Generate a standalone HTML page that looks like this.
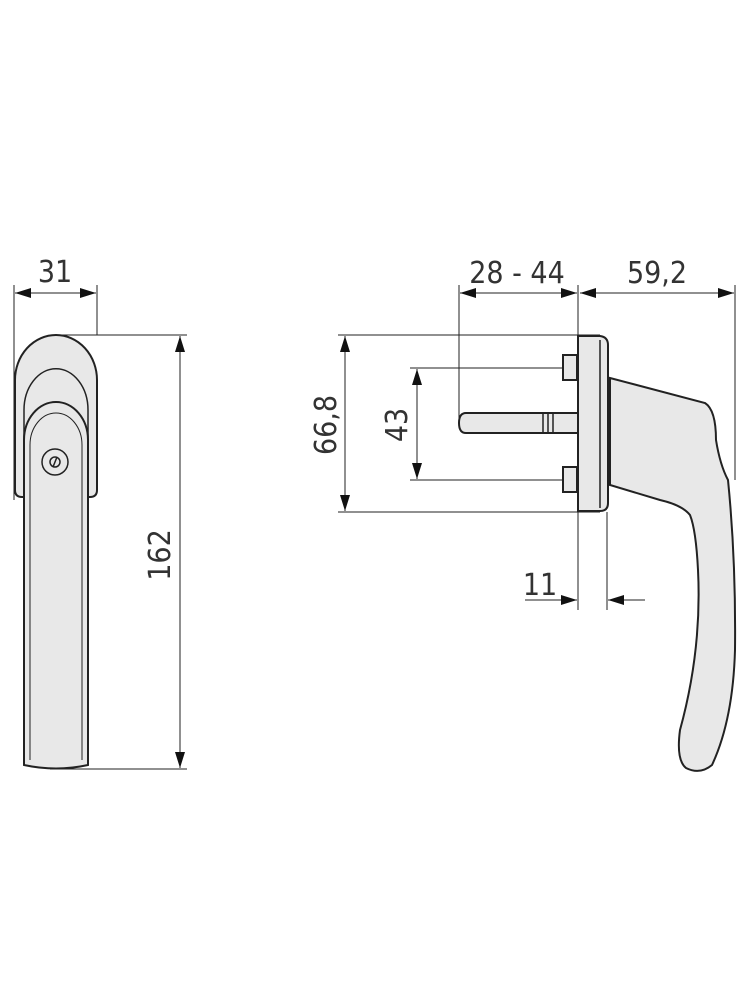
<!DOCTYPE html>
<html><head><style>
html,body{margin:0;padding:0;background:#fff;}
svg{display:block;}
text{font-family:"DejaVu Sans Condensed","Liberation Sans",sans-serif;font-weight:300;fill:#333;font-size:30px;}
</style></head><body>
<svg width="750" height="1000" viewBox="0 0 750 1000" xmlns="http://www.w3.org/2000/svg">
<defs>
<marker id="a" markerWidth="16" markerHeight="10" refX="16" refY="5" orient="auto-start-reverse" markerUnits="userSpaceOnUse">
<path d="M0,0 L16,5 L0,10 z" fill="#111"/></marker>
</defs>
<g stroke="#222" stroke-width="1" fill="none">
<line x1="14" y1="285" x2="14" y2="500"/>
<line x1="97" y1="285" x2="97" y2="335"/>
<line x1="15" y1="293" x2="96" y2="293" marker-start="url(#a)" marker-end="url(#a)"/>
<line x1="60" y1="335" x2="187" y2="335"/>
<line x1="50" y1="769" x2="187" y2="769"/>
<line x1="180" y1="336" x2="180" y2="768" marker-start="url(#a)" marker-end="url(#a)"/>
</g>
<text x="55" y="282" text-anchor="middle">31</text>
<text transform="translate(170,555) rotate(-90)" text-anchor="middle">162</text>
<g stroke="#222" stroke-width="2" fill="#e8e8e8">
<path d="M15,490 L15,380 A41,45 0 0 1 97,380 L97,490 Q97,497 90,497 L22,497 Q15,497 15,490 Z"/>
<path d="M24,470 L24,410 A31,40 0 0 1 88,410 L88,470 Z" stroke-width="1.5"/>
<path d="M24,765 L24,440 A32,38 0 0 1 88,440 L88,765 Q56,772 24,765 Z"/>
<path d="M30,760 L30,445 A26,32 0 0 1 82,445 L82,760" stroke-width="1" fill="none"/>
<circle cx="55" cy="462" r="13" stroke-width="1.5"/>
<circle cx="55" cy="462" r="5" stroke-width="1.5" fill="none"/>
<line x1="53" y1="467" x2="57" y2="457" stroke-width="1.5"/>
</g>
<g stroke="#222" stroke-width="1" fill="none">
<line x1="459" y1="285" x2="459" y2="425"/>
<line x1="578" y1="285" x2="578" y2="610"/>
<line x1="735" y1="285" x2="735" y2="480"/>
<line x1="607" y1="512" x2="607" y2="610"/>
<line x1="460" y1="293" x2="577" y2="293" marker-start="url(#a)" marker-end="url(#a)"/>
<line x1="580" y1="293" x2="734" y2="293" marker-start="url(#a)" marker-end="url(#a)"/>
<line x1="338" y1="335" x2="600" y2="335"/>
<line x1="338" y1="512" x2="600" y2="512"/>
<line x1="345" y1="336" x2="345" y2="511" marker-start="url(#a)" marker-end="url(#a)"/>
<line x1="410" y1="368" x2="565" y2="368"/>
<line x1="410" y1="480" x2="565" y2="480"/>
<line x1="417" y1="369" x2="417" y2="479" marker-start="url(#a)" marker-end="url(#a)"/>
<line x1="525" y1="600" x2="577" y2="600" marker-end="url(#a)"/>
<line x1="645" y1="600" x2="608" y2="600" marker-end="url(#a)"/>
</g>
<text x="517" y="283" text-anchor="middle">28 - 44</text>
<text x="657" y="283" text-anchor="middle">59,2</text>
<text transform="translate(336,425) rotate(-90)" text-anchor="middle">66,8</text>
<text transform="translate(407,425) rotate(-90)" text-anchor="middle">43</text>
<text x="540" y="595" text-anchor="middle">11</text>
<g stroke="#222" stroke-width="2" fill="#e8e8e8">
<path d="M610,378 L705,403 Q716,410 716,440 Q720,465 728,480 Q736,560 735,650 Q733,720 712,765 Q700,775 686,768 Q676,760 680,730 Q702,650 698,570 Q696,530 690,515 Q682,505 660,500 L610,485 Z"/>
<rect x="563" y="355" width="14" height="25"/>
<rect x="563" y="467" width="14" height="25"/>
<path d="M578,413 L466,413 Q459,413 459,423 Q459,433 466,433 L578,433 Z"/>
<line x1="543" y1="414" x2="543" y2="432" stroke-width="1.5"/>
<line x1="548" y1="414" x2="548" y2="432" stroke-width="1.5"/>
<line x1="553" y1="414" x2="553" y2="432" stroke-width="1.5"/>
<path d="M578,336 L600,336 Q608,337 608,345 L608,503 Q608,511 600,511 L578,511 Z"/>
<line x1="600" y1="340" x2="600" y2="508" stroke-width="1.5"/>
</g>
</svg>
</body></html>
